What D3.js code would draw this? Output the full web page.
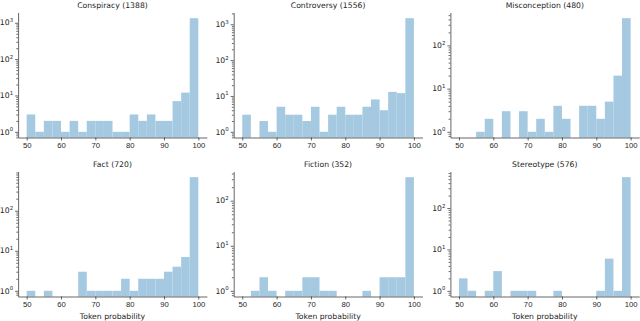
<!DOCTYPE html>
<html>
<head>
<meta charset="utf-8">
<script src="https://cdn.jsdelivr.net/npm/d3@7"></script>
<style>
  body { margin: 0; background: #fff; }
  svg { display: block; font-family: "DejaVu Sans", sans-serif; }
  .axis path, .axis line { stroke: #262626; stroke-width: 0.7; }
  .axis text { fill: #262626; font-size: 7.7px; }
</style>
</head>
<body>
<svg width="640" height="321"></svg>
<script>
// left edge of each 2.5-wide bin
var binStart = [50, 52.5, 55, 57.5, 60, 62.5, 65, 67.5, 70, 72.5,
                75, 77.5, 80, 82.5, 85, 87.5, 90, 92.5, 95, 97.5];
var binWidth = 2.5;

var titles = ["Conspiracy (1388)", "Controversy (1556)", "Misconception (480)",
              "Fact (720)", "Fiction (352)", "Stereotype (576)"];

var conspiracy    = [3, 1, 2, 2, 1, 2, 1, 2, 2, 2, 1, 1, 3, 2, 3, 2, 2, 7, 12, 1337];
var controversy   = [3, 0, 2, 1, 5, 3, 3, 2, 5, 1, 3, 5, 3, 3, 5, 8, 4, 13, 12, 1475];
var misconception = [0, 0, 1, 2, 0, 3, 0, 3, 1, 2, 1, 4, 2, 0, 4, 4, 2, 5, 20, 426];
var fact          = [1, 0, 1, 0, 0, 0, 3, 1, 1, 1, 1, 2, 1, 2, 2, 2, 3, 4, 7, 688];
var fiction       = [0, 1, 2, 1, 0, 1, 1, 2, 2, 1, 1, 0, 0, 0, 1, 0, 2, 2, 2, 333];
var stereotype    = [2, 1, 0, 1, 3, 0, 1, 1, 1, 0, 0, 1, 0, 0, 0, 0, 1, 6, 1, 557];

var series = [conspiracy, controversy, misconception, fact, fiction, stereotype];
var xTicks = [50, 60, 70, 80, 90, 100];
var xLabel = "Token probability";

var svg = d3.select("svg"),
    colLeft = [18.1, 233.7, 450.4],
    rowTop = [12.5, 171.5],
    w = 188.8,
    h = 125,
    barColor = "#a5c9e1";

series.forEach(function(counts, i) {
  var col = i % 3, row = Math.floor(i / 3);
  var g = svg.append("g")
      .attr("transform", "translate(" + colLeft[col] + "," + rowTop[row] + ")");

  var x = d3.scaleLinear().domain([47.5, 102.5]).range([0, w]);

  // matplotlib style 5% margin in log space
  var top = Math.log10(d3.max(counts)),
      pad = top * 0.05;
  var y = d3.scaleLog()
      .domain([Math.pow(10, -pad), Math.pow(10, top + pad)])
      .range([h, 0]);

  g.selectAll("rect")
    .data(binStart.map(function(s, j) { return {x: s, n: counts[j]}; })
      .filter(function(d) { return d.n > 0; }))
    .enter().append("rect")
      .attr("x", function(d) { return x(d.x); })
      .attr("width", function(d) { return x(d.x + binWidth) - x(d.x); })
      .attr("y", function(d) { return y(d.n); })
      .attr("height", function(d) { return h - y(d.n); })
      .attr("fill", barColor);

  // x axis
  g.append("g")
      .attr("class", "axis")
      .attr("transform", "translate(0," + h + ")")
      .call(d3.axisBottom(x).tickValues(xTicks).tickSize(3).tickPadding(2.5).tickSizeOuter(0))
      .selectAll("text").attr("dy", "0.71em");

  // y axis: majors and minors
  var dom = y.domain(), majors = [], minors = [];
  for (var k = -1; k <= 4; k++) {
    var p = Math.pow(10, k);
    if (p >= dom[0] && p <= dom[1]) majors.push(k);
    for (var m = 2; m <= 9; m++) {
      if (m * p >= dom[0] && m * p <= dom[1]) minors.push(m * p);
    }
  }

  var ya = g.append("g").attr("class", "axis");
  ya.call(d3.axisLeft(y).tickValues(minors).tickSize(1.8).tickFormat("").tickSizeOuter(0));
  ya.selectAll(".tick line").attr("stroke-width", 0.5);

  var yb = g.append("g").attr("class", "axis");
  yb.call(d3.axisLeft(y).tickValues(majors.map(function(k) { return Math.pow(10, k); }))
      .tickSize(3).tickFormat("").tickSizeOuter(0));
  yb.select(".domain").remove();

  var lab = g.selectAll(".ylab")
    .data(majors)
    .enter().append("text")
      .attr("class", "ylab")
      .attr("x", -5)
      .attr("y", function(k) { return y(Math.pow(10, k)) + 2.7; })
      .attr("text-anchor", "end")
      .attr("fill", "#262626")
      .style("font-size", "7.7px");
  lab.append("tspan").text("10");
  lab.append("tspan")
      .attr("dy", -3.2)
      .style("font-size", "5.4px")
      .text(function(k) { return k; });

  // title
  g.append("text")
      .attr("x", w / 2)
      .attr("y", -4.6)
      .attr("text-anchor", "middle")
      .attr("fill", "#262626")
      .style("font-size", "7.7px")
      .text(titles[i]);

  if (row === 1) {
    g.append("text")
        .attr("x", w / 2)
        .attr("y", h + 22)
        .attr("text-anchor", "middle")
        .attr("fill", "#262626")
        .style("font-size", "7.7px")
        .text(xLabel);
  }
});
</script>
</body>
</html>
